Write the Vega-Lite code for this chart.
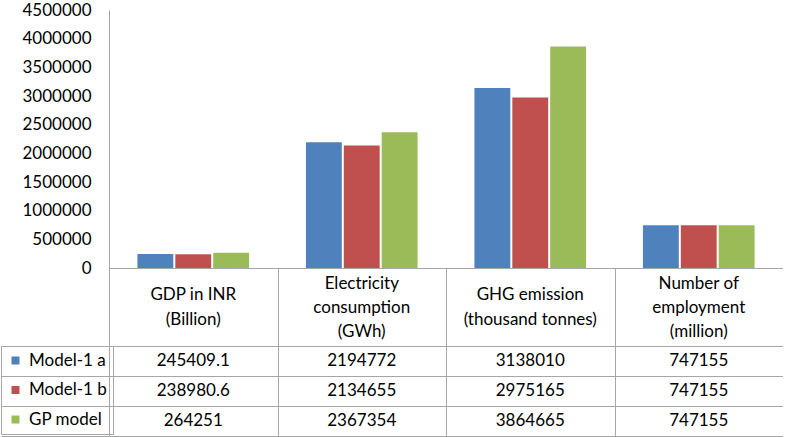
{
  "$schema": "https://vega.github.io/schema/vega-lite/v6.json",
  "padding": {"left": 0, "top": 1, "right": 0, "bottom": 0},
  "bounds": "flush",
  "spacing": 0,
  "config": {
    "view": {"stroke": null},
    "font": "Lato",
    "axis": {"labelFont": "Lato", "labelFontSize": 17, "labelColor": "#000000", "domainColor": "#a6a6a6", "gridColor": "#a6a6a6", "tickColor": "#a6a6a6", "gridOpacity": 1}
  },
  "data": {
    "values": [
      {"category": "GDP in INR\n(Billion)", "model": "Model-1 a", "value": 245409.1},
      {"category": "GDP in INR\n(Billion)", "model": "Model-1 b", "value": 238980.6},
      {"category": "GDP in INR\n(Billion)", "model": "GP model", "value": 264251},
      {"category": "Electricity\nconsumption\n(GWh)", "model": "Model-1 a", "value": 2194772},
      {"category": "Electricity\nconsumption\n(GWh)", "model": "Model-1 b", "value": 2134655},
      {"category": "Electricity\nconsumption\n(GWh)", "model": "GP model", "value": 2367354},
      {"category": "GHG emission\n(thousand tonnes)", "model": "Model-1 a", "value": 3138010},
      {"category": "GHG emission\n(thousand tonnes)", "model": "Model-1 b", "value": 2975165},
      {"category": "GHG emission\n(thousand tonnes)", "model": "GP model", "value": 3864665},
      {"category": "Number of\nemployment\n(million)", "model": "Model-1 a", "value": 747155},
      {"category": "Number of\nemployment\n(million)", "model": "Model-1 b", "value": 747155},
      {"category": "Number of\nemployment\n(million)", "model": "GP model", "value": 747155}
    ]
  },
  "vconcat": [
    {
      "width": 674,
      "height": 258,
      "mark": {"type": "bar"},
      "encoding": {
        "x": {"field": "category", "type": "nominal", "sort": ["GDP in INR\n(Billion)", "Electricity\nconsumption\n(GWh)", "GHG emission\n(thousand tonnes)", "Number of\nemployment\n(million)"], "scale": {"paddingInner": 0, "paddingOuter": 0}, "axis": {"labels": false, "ticks": false, "title": null, "domain": true}},
        "xOffset": {"field": "model", "type": "nominal", "sort": ["Model-1 a", "Model-1 b", "GP model"], "scale": {"paddingInner": 0.053, "paddingOuter": 0.75}},
        "y": {"field": "value", "type": "quantitative", "scale": {"domain": [0, 4500000], "nice": false}, "axis": {"values": [0, 500000, 1000000, 1500000, 2000000, 2500000, 3000000, 3500000, 4000000, 4500000], "format": "d", "title": null, "grid": false, "ticks": false, "labelPadding": 18}},
        "color": {
          "field": "model", "type": "nominal", "sort": ["Model-1 a", "Model-1 b", "GP model"],
          "scale": {"domain": ["Model-1 a", "Model-1 b", "GP model"], "range": ["#4f81bd", "#c0504d", "#9bbb59"]},
          "legend": {"orient": "none", "legendX": -108, "legendY": 336, "title": null, "direction": "vertical", "symbolType": "square", "symbolSize": 64, "symbolStrokeWidth": 0, "labelFont": "Lato", "labelFontSize": 17, "labelColor": "#000000", "rowPadding": 11.5, "padding": 6, "strokeColor": "#a6a6a6", "labelOffset": 5}
        }
      }
    },
    {
      "width": 674,
      "height": 78,
      "layer": [
        {
          "transform": [{"filter": "datum.model === 'Model-1 a' && length(split(datum.category, '\\n')) === 2"}],
          "mark": {"type": "text", "lineBreak": "\n", "font": "Lato", "fontSize": 17, "color": "#000000", "lineHeight": 24.5, "dy": -12}
        },
        {
          "transform": [{"filter": "datum.model === 'Model-1 a' && length(split(datum.category, '\\n')) === 3"}],
          "mark": {"type": "text", "lineBreak": "\n", "font": "Lato", "fontSize": 17, "color": "#000000", "lineHeight": 24, "dy": -23}
        }
      ],
      "encoding": {
        "x": {"field": "category", "type": "nominal", "sort": ["GDP in INR\n(Billion)", "Electricity\nconsumption\n(GWh)", "GHG emission\n(thousand tonnes)", "Number of\nemployment\n(million)"], "scale": {"paddingInner": 0, "paddingOuter": 0}, "axis": {"labels": false, "ticks": false, "title": null, "domain": false, "grid": true, "tickBand": "extent"}},
        "text": {"field": "category", "type": "nominal"}
      }
    },
    {
      "width": 674,
      "height": 90,
      "mark": {"type": "text", "font": "Lato", "fontSize": 17, "color": "#000000"},
      "encoding": {
        "x": {"field": "category", "type": "nominal", "sort": ["GDP in INR\n(Billion)", "Electricity\nconsumption\n(GWh)", "GHG emission\n(thousand tonnes)", "Number of\nemployment\n(million)"], "scale": {"paddingInner": 0, "paddingOuter": 0}, "axis": {"labels": false, "ticks": false, "title": null, "domain": false, "grid": true, "tickBand": "extent"}},
        "y": {"field": "model", "type": "nominal", "sort": ["Model-1 a", "Model-1 b", "GP model"], "scale": {"paddingInner": 0, "paddingOuter": 0}, "axis": {"labels": false, "ticks": true, "tickSize": 108, "title": null, "domain": false, "grid": true, "tickBand": "extent"}},
        "text": {"field": "value", "type": "quantitative", "format": ".10~r"}
      }
    }
  ]
}
